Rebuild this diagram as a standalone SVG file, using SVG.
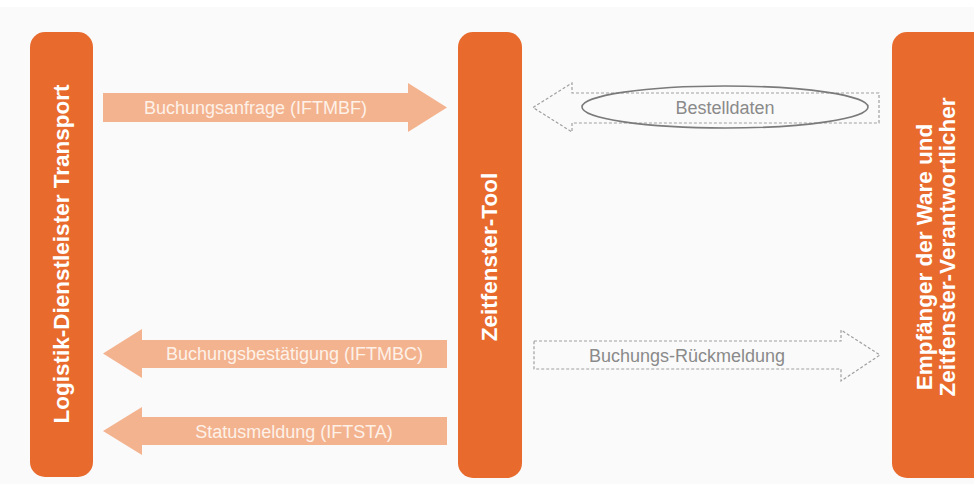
<svg xmlns="http://www.w3.org/2000/svg" width="974" height="488" viewBox="0 0 974 488">
  <style>
    .node { fill: #e86b2d; }
    .label { font-family: "Liberation Sans", Arial, sans-serif; font-weight: bold; font-size: 22.5px; fill: #ffffff; text-anchor: middle; }
    .flow { fill: #f4b38f; }
    .flow-text { font-family: "Liberation Sans", Arial, sans-serif; font-size: 18px; fill: #fdf1e8; text-anchor: middle; }
    .dashed { fill: none; stroke: #a0a0a0; stroke-width: 1.2; stroke-dasharray: 3 2; }
    .dashed-text { font-family: "Liberation Sans", Arial, sans-serif; font-size: 18px; fill: #8a8a8a; text-anchor: middle; }
  </style>

  <!-- page background -->
  <rect x="0" y="0" width="974" height="488" fill="#ffffff"/>
  <rect x="0" y="7" width="974" height="477" fill="#fafafa"/>

  <!-- participants -->
  <g id="logistik">
    <rect class="node" x="30" y="32" width="63" height="445" rx="15" ry="15"/>
    <text class="label" transform="translate(69,254) rotate(-90)">Logistik-Dienstleister Transport</text>
  </g>

  <g id="zeitfenster-tool">
    <rect class="node" x="458" y="32" width="64" height="446" rx="15" ry="15"/>
    <text class="label" transform="translate(497,257) rotate(-90)">Zeitfenster-Tool</text>
  </g>

  <g id="empfaenger">
    <rect class="node" x="892" y="32" width="110" height="446" rx="15" ry="15"/>
    <text class="label" transform="translate(932,257) rotate(-90)">Empfänger der Ware und</text>
    <text class="label" transform="translate(955,247) rotate(-90)">Zeitfenster-Verantwortlicher</text>
  </g>

  <!-- message flows -->
  <g id="connectors">
    <g id="buchungsanfrage">
      <polygon class="flow" points="103,93 408,93 408,83 447,107.5 408,132 408,122 103,122"/>
      <text class="flow-text" x="255.5" y="114">Buchungsanfrage (IFTMBF)</text>
    </g>

    <g id="bestelldaten">
      <polygon class="dashed" points="879,93 572,93 572,83 533,107.5 572,132 572,123 879,123"/>
      <ellipse cx="725" cy="107" rx="143" ry="21" fill="none" stroke="#7a7a7a" stroke-width="1.6"/>
      <text class="dashed-text" x="725" y="114">Bestelldaten</text>
    </g>

    <g id="buchungsbestaetigung">
      <polygon class="flow" points="447,340 142,340 142,329 103,353.5 142,378 142,368 447,368"/>
      <text class="flow-text" x="294.5" y="360">Buchungsbestätigung (IFTMBC)</text>
    </g>

    <g id="buchungs-rueckmeldung">
      <polygon class="dashed" points="534,341 841,341 841,330 880,355 841,381 841,369 534,369"/>
      <text class="dashed-text" x="687" y="362">Buchungs-Rückmeldung</text>
    </g>

    <g id="statusmeldung">
      <polygon class="flow" points="447,417 142,417 142,407 103,431 142,455 142,445 447,445"/>
      <text class="flow-text" x="294" y="438">Statusmeldung (IFTSTA)</text>
    </g>
  </g>
</svg>
